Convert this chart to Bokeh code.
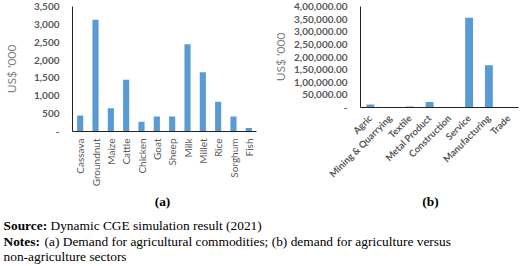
import math
from bokeh.plotting import figure
from bokeh.layouts import column, row
from bokeh.models import Label, FixedTicker, ColumnDataSource
from bokeh.embed import file_html
from bokeh.resources import INLINE

# ---- data ----
agri_items = ["Cassava", "Groundnut", "Maize", "Cattle", "Chicken", "Goat",
              "Sheep", "Milk", "Millet", "Rice", "Sorghum", "Fish"]
agri_values = [450, 3130, 650, 1450, 270, 420, 420, 2440, 1660, 830, 420, 100]
agri_ticks = [0, 500, 1000, 1500, 2000, 2500, 3000, 3500]
agri_tick_labels = ["-", "500", "1,000", "1,500", "2,000", "2,500", "3,000", "3,500"]

sectors = ["Agric", "Mining & Quarrying", "Textile", "Metal Product",
           "Construction", "Service", "Manufacturing", "Trade"]
sector_values = [12000, 500, 4000, 22000, 300, 355000, 167000, 1500]
sector_ticks = [0, 50000, 100000, 150000, 200000, 250000, 300000, 350000, 400000]
sector_tick_labels = ["-", "50,000.00", "1,00,000.00", "1,50,000.00", "2,00,000.00",
                      "2,50,000.00", "3,00,000.00", "3,50,000.00", "4,00,000.00"]

y_label = "US$ '000"
panel_labels = ["(a)", "(b)"]
source_text = ["Source:", "Dynamic CGE simulation result (2021)"]
notes_text = ["Notes:", "(a) Demand for agricultural commodities; (b) demand for agriculture versus",
              "non-agriculture sectors"]

BAR = "#5B9BD5"
TICK_COL = "#595959"
FONT = "Lato"
SERIF = "Liberation Serif"
CHART_H = 190
CAP_H = 266 - CHART_H


def style(p, ticks, labels, orient, bottom_standoff, xbold, xsize):
    p.xgrid.visible = False
    p.ygrid.visible = False
    p.outline_line_color = None
    p.yaxis.ticker = FixedTicker(ticks=ticks)
    p.yaxis.major_label_overrides = {t: l for t, l in zip(ticks, labels)}
    for ax in (p.xaxis[0], p.yaxis[0]):
        ax.axis_line_color = "#222222"
        ax.axis_line_width = 1
        ax.major_tick_line_color = None
        ax.minor_tick_line_color = None
        ax.major_tick_out = 0
        ax.major_tick_in = 0
        ax.minor_tick_out = 0
        ax.minor_tick_in = 0
        ax.major_label_text_font = FONT
        ax.major_label_text_color = TICK_COL
    p.yaxis.major_label_text_font_size = "10px"
    p.yaxis.major_label_text_font_style = "bold"
    p.xaxis.major_label_text_font_size = xsize
    p.xaxis.major_label_text_font_style = "bold" if xbold else "normal"
    p.yaxis.major_label_standoff = 13
    p.xaxis.major_label_standoff = bottom_standoff
    p.xaxis.major_label_orientation = orient
    p.yaxis.axis_label = y_label
    p.yaxis.axis_label_text_font = FONT
    p.yaxis.axis_label_text_font_size = "12px"
    p.yaxis.axis_label_text_font_style = "normal"
    p.yaxis.axis_label_text_color = "#7f7f7f"


# ---- panel (a) ----
src1 = ColumnDataSource(dict(x=agri_items, top=agri_values))
p1 = figure(width=260, height=CHART_H, x_range=agri_items, y_range=(0, 3500),
            output_backend="svg", toolbar_location=None,
            min_border_left=57, min_border_right=4, min_border_top=6,
            min_border_bottom=CHART_H - 131)
p1.vbar(x="x", top="top", width=0.4, source=src1, fill_color=BAR, line_color=None)
style(p1, agri_ticks, agri_tick_labels, math.pi / 2, 7, False, "10px")
p1.yaxis.axis_label_standoff = 12

# ---- panel (b) ----
src2 = ColumnDataSource(dict(x=sectors, top=sector_values))
p2 = figure(width=260, height=CHART_H, x_range=sectors, y_range=(0, 400000),
            output_backend="svg", toolbar_location=None,
            min_border_left=100, min_border_right=2, min_border_top=6,
            min_border_bottom=CHART_H - 107)
p2.vbar(x="x", top="top", width=0.4, source=src2, fill_color=BAR, line_color=None)
style(p2, sector_ticks, sector_tick_labels, math.pi / 4, 9, True, "9.5px")
p2.yaxis.axis_label_standoff = 3

# ---- caption area ----
p3 = figure(width=520, height=CAP_H, x_range=(0, 520), y_range=(0, CAP_H),
            output_backend="svg", toolbar_location=None,
            min_border=0)
p3.axis.visible = False
p3.xgrid.visible = False
p3.ygrid.visible = False
p3.outline_line_color = None


def lab(x, y, t, bold=False, align="left"):
    # y is the page coordinate (from the top of the window)
    p3.add_layout(Label(x=x, y=266 - y, x_units="screen", y_units="screen", text=t,
                        text_font=SERIF, text_font_size="13.4px",
                        text_font_style="bold" if bold else "normal",
                        text_color="black", text_align=align,
                        text_baseline="middle"))


lab(162, 201, panel_labels[0], bold=True, align="center")
lab(430, 201, panel_labels[1], bold=True, align="center")
lab(3, 225, source_text[0], bold=True)
lab(50, 225, source_text[1])
lab(3, 241, notes_text[0], bold=True)
lab(44, 241, notes_text[1])
lab(3, 256, notes_text[2])

layout = column(row(column(p1), column(p2)), p3)
open("out.html", "w").write(file_html(layout, INLINE))
